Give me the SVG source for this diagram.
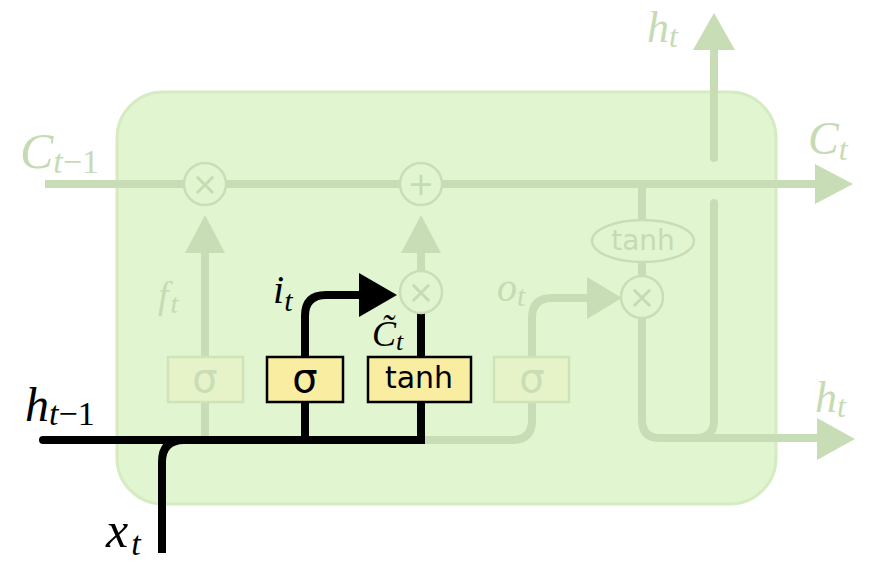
<svg xmlns="http://www.w3.org/2000/svg" width="880" height="564" viewBox="0 0 880 564">
<style>
.fl{fill:none;stroke:#c8ddb6;stroke-width:8}
.fh{fill:#c8ddb6;stroke:none}
.bl{fill:none;stroke:#000;stroke-width:8}
.bh{fill:#000;stroke:none}
.cir{fill:#e1f5d0;stroke:#c9ddb7;stroke-width:2.5}
.op{font-family:"DejaVu Sans",sans-serif;font-size:32px;fill:#c6dbb3;text-anchor:middle}
.fbox{fill:#e6f3c8;stroke:#d0e3b8;stroke-width:2.5}
.ybox{fill:#f8eda0;stroke:#000;stroke-width:2.5}
.gt{font-family:"DejaVu Sans",sans-serif;text-anchor:middle}
.m{font-family:"Liberation Serif","DejaVu Serif",serif;font-style:italic}
.fm{fill:#c6dbb3}
</style>
<g id="cell">
<rect x="117" y="92" width="659" height="412" rx="46" ry="46" fill="#e1f5d0" stroke="#d5ebc2" stroke-width="3"/>
</g>
<g id="connectors">
<path class="fl" d="M45 184 H818"/>
<polygon class="fh" points="815,164 853,184 815,204"/>
<path class="fl" d="M205 440 V253"/>
<polygon class="fh" points="185,253 205,215 225,253"/>
<path class="fl" d="M421 292 V253"/>
<polygon class="fh" points="401,253 421,215 441,253"/>
<path class="fl" d="M421 440 H512 Q532 440 532 420 V318 Q532 298 552 298 H590"/>
<polygon class="fh" points="587,277 622,298 587,319"/>
<path class="fl" d="M642 184 V420 Q642 438 660 438 H820"/>
<polygon class="fh" points="817,418 855,439 817,460"/>
<path class="fl" d="M714 203 V420 Q714 438 696 438" stroke-linecap="round"/>
<path class="fl" d="M714 158 V48" stroke-linecap="round"/>
<polygon class="fh" points="693,50 714,13 735,50"/>
<path class="bl" d="M43 440 H421 V400" stroke-linecap="round"/>
<path class="bl" d="M162 553 V462 Q162 440 184 440"/>
<path class="bl" d="M305 440 V400"/>
<path class="bl" d="M305 360 V316 Q305 295 326 295 H362"/>
<polygon class="bh" points="359,273 397,295 359,317"/>
<path class="bl" d="M421 360 V312"/>
</g>
<g id="forget-mult">
<circle class="cir" cx="205" cy="184" r="21"/>
<text class="op" x="205" y="195">×</text>
</g>
<g id="plus">
<circle class="cir" cx="421" cy="184" r="21"/>
<text class="op" x="421" y="195">+</text>
</g>
<g id="input-mult">
<circle class="cir" cx="421" cy="292" r="21"/>
<text class="op" x="421" y="303">×</text>
</g>
<g id="output-mult">
<circle class="cir" cx="642" cy="297" r="21"/>
<text class="op" x="642" y="308">×</text>
</g>
<g id="tanh-out">
<ellipse class="cir" cx="643" cy="241" rx="51" ry="21"/>
<text class="gt" x="643" y="250" font-size="28" fill="#c6dbb3">tanh</text>
</g>
<g id="forget-gate">
<rect class="fbox" x="168" y="357" width="75" height="45"/>
<text class="gt" x="205" y="392" font-size="40" fill="#c9ddb6">σ</text>
</g>
<g id="input-gate">
<rect class="ybox" x="267" y="357" width="76" height="45"/>
<text class="gt" x="305" y="392" font-size="40" fill="#000">σ</text>
</g>
<g id="tanh-gate">
<rect class="ybox" x="368" y="357" width="103" height="45"/>
<text class="gt" x="419" y="388" font-size="30" fill="#000">tanh</text>
</g>
<g id="output-gate">
<rect class="fbox" x="494" y="357" width="75" height="45"/>
<text class="gt" x="532" y="392" font-size="40" fill="#c9ddb6">σ</text>
</g>
<g id="labels">
<text class="m fm" x="20" y="168" font-size="50">C<tspan font-size="34" dy="5">t</tspan><tspan font-style="normal" font-size="34">−1</tspan></text>
<text class="m" x="25" y="421" font-size="48">h<tspan font-size="34" dy="4">t</tspan><tspan font-style="normal" font-size="34">−1</tspan></text>
<text class="m" x="106" y="547" font-size="50">x<tspan font-size="34" dy="8" dx="3">t</tspan></text>
<text class="m fm" x="647" y="42" font-size="44">h<tspan font-size="32" dy="5">t</tspan></text>
<text class="m fm" x="808" y="154" font-size="46">C<tspan font-size="32" dy="6">t</tspan></text>
<text class="m fm" x="815" y="412" font-size="44">h<tspan font-size="32" dy="5">t</tspan></text>
<text class="m fm" x="158" y="308" font-size="38">f<tspan font-size="28" dy="5" dx="2">t</tspan></text>
<text class="m" x="273" y="303" font-size="40">i<tspan font-size="30" dy="8">t</tspan></text>
<text class="m fm" x="497" y="301" font-size="40">o<tspan font-size="30" dy="5">t</tspan></text>
<text class="m" x="372" y="346" font-size="36">C&#x303;<tspan font-size="26" dy="4">t</tspan></text>
</g>
</svg>
